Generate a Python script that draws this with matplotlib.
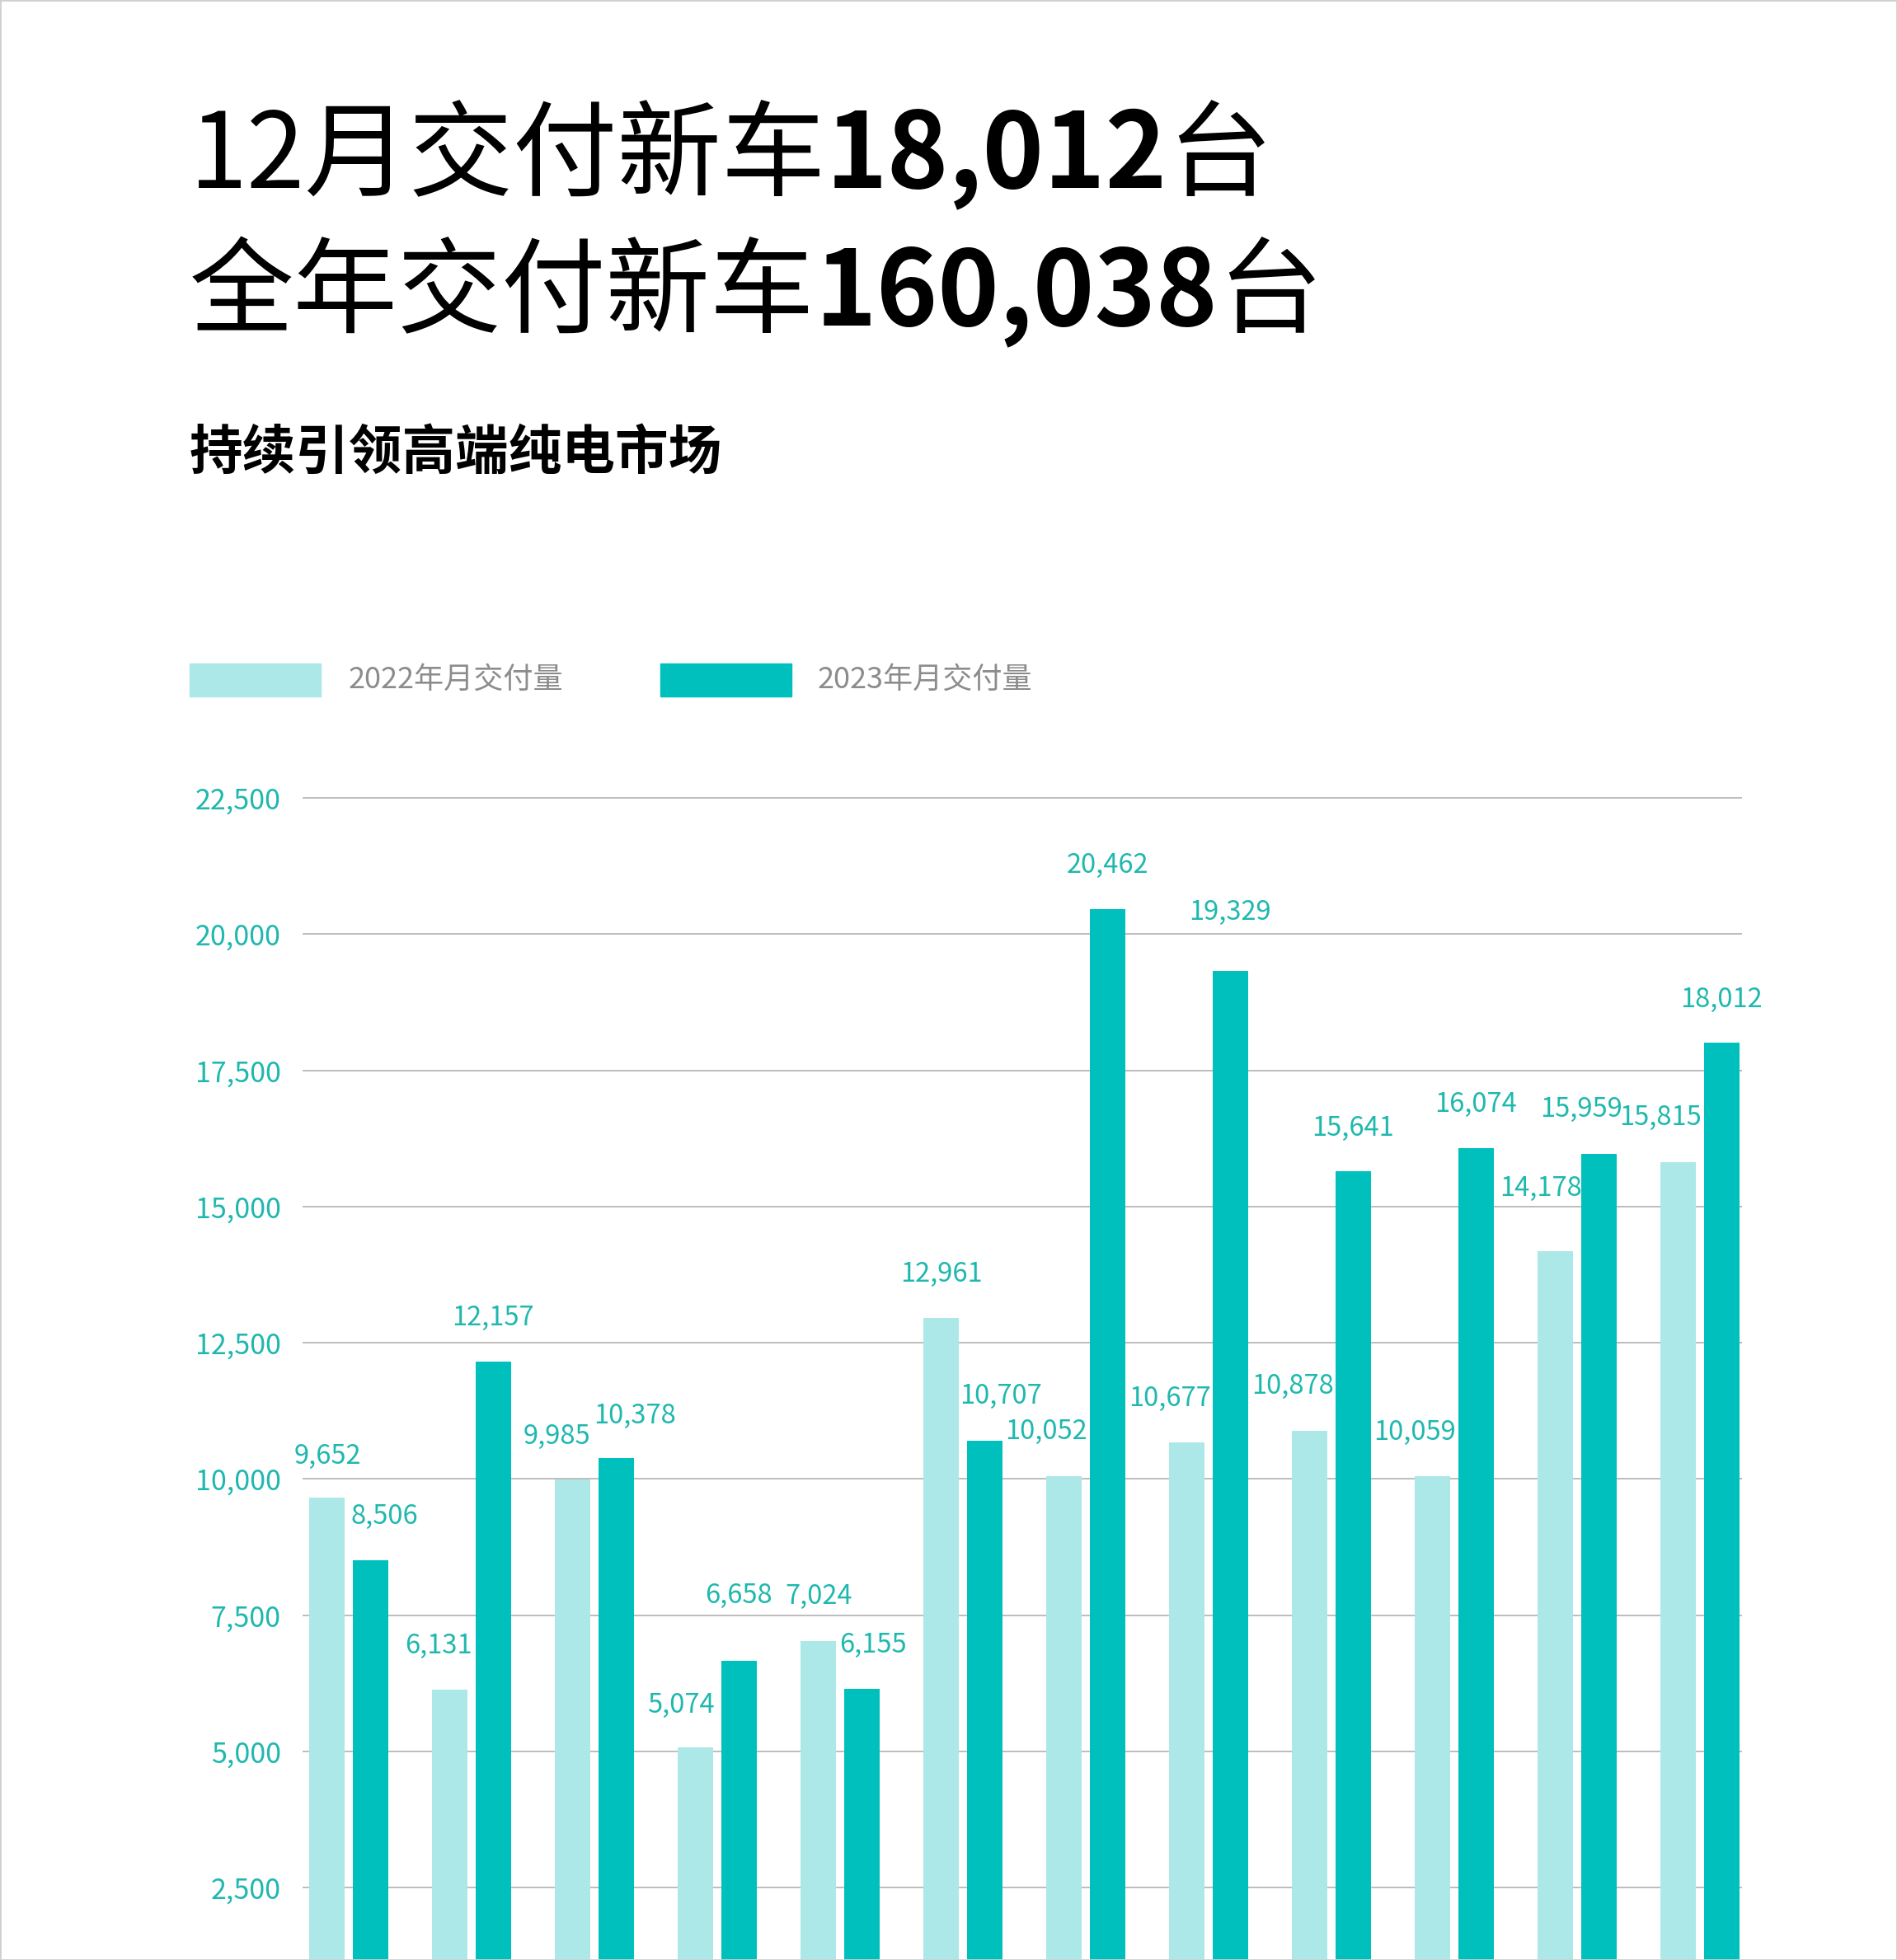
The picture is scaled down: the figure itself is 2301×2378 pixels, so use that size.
import matplotlib
matplotlib.use('Agg')
import matplotlib.pyplot as plt
from matplotlib.patches import Rectangle
import numpy as np

plt.rcParams['font.family'] = ['Noto Sans CJK SC', 'DejaVu Sans']

# 数据
months = list(range(1, 13))
sales_2022 = [9652, 6131, 9985, 5074, 7024, 12961, 10052, 10677, 10878, 10059, 14178, 15815]
sales_2023 = [8506, 12157, 10378, 6658, 6155, 10707, 20462, 19329, 15641, 16074, 15959, 18012]
y_ticks = [2500, 5000, 7500, 10000, 12500, 15000, 17500, 20000, 22500]
legend_labels = ['2022年月交付量', '2023年月交付量']
title_lines = [
    ('12月交付新车', '18,012', '台'),
    ('全年交付新车', '160,038', '台'),
]
subtitle = '持续引领高端纯电市场'

# 数值标签的偏移 (points), 避免互相重叠
off_2022 = [(0, 36), (-10, 38), (-14, 38), (-13, 37), (0, 39), (0, 38),
            (-16, 39), (-15, 38), (-15, 39), (-16, 38), (-13, 55), (-16, 39)]
off_2023 = [(12, 38), (0, 38), (16, 37), (0, 57), (10, 38), (14, 39),
            (0, 38), (0, 51), (0, 38), (0, 38), (-15, 39), (0, 37)]

LIGHT = '#ace8e8'
DARK = '#00c0be'
TEAL = '#1fb8ae'
GRID = '#bdbdbd'

W, H, DPI = 2301, 2378, 100
fig = plt.figure(figsize=(W / DPI, H / DPI), dpi=DPI)
fig.patch.set_facecolor('white')

# 图表区域
ax = fig.add_axes([367 / W, 0, 1746 / W, 1443 / H])
x = np.arange(len(months))
bw, sh = 0.289, 0.176
ax.bar(x - sh, sales_2022, width=bw, color=LIGHT, zorder=2)
ax.bar(x + sh, sales_2023, width=bw, color=DARK, zorder=2)
ax.set_xlim(-0.377, 11.342)
ax.set_ylim(1172, 23000)
ax.set_yticks(y_ticks)
ax.set_yticklabels([f'{v:,}' for v in y_ticks])
ax.set_xticks([])
ax.yaxis.grid(True, color=GRID, lw=1.4)
ax.set_axisbelow(True)
for s in ax.spines.values():
    s.set_visible(False)
ax.tick_params(axis='y', length=0, pad=19, labelsize=24.5, labelcolor=TEAL)
for lab in ax.get_yticklabels():
    lab.set_fontweight('light')

for i in range(len(months)):
    for vals, offs, sgn in ((sales_2022, off_2022, -1), (sales_2023, off_2023, 1)):
        v = vals[i]
        ax.annotate(f'{v:,}', xy=(i + sgn * sh, v), xytext=offs[i],
                    textcoords='offset points', ha='center', va='center',
                    fontsize=23.5, color=TEAL, fontweight='light',
                    annotation_clip=False)

# 标题
renderer = fig.canvas.get_renderer()
baselines = [228, 394]
for (pre, num, unit), yb in zip(title_lines, baselines):
    xp = 230
    for txt, wt in ((pre, 'light'), (num, 'black'), (unit, 'light')):
        t = fig.text(xp / W, 1 - yb / H, txt, fontsize=91, fontweight=wt,
                     color='black', ha='left', va='baseline')
        xp += t.get_window_extent(renderer).width

fig.text(230 / W, 1 - 550 / H, subtitle, fontsize=46.5, fontweight='bold',
         color='black', ha='left', va='center')

# 图例
for (x0, tx), lab, col in zip(((230, 423), (801, 992)), legend_labels, (LIGHT, DARK)):
    fig.patches.append(Rectangle((x0 / W, 1 - 845 / H), 159 / W, 40 / H,
                                 transform=fig.transFigure, color=col))
    fig.text(tx / W, 1 - 825 / H, lab, fontsize=26, color='#8c8c8c',
             fontweight='light', ha='left', va='center')

# 外框
fig.patches.append(Rectangle((0, 0), 1, 1, transform=fig.transFigure,
                             fill=False, edgecolor='#d0d0d0', lw=2))

fig.savefig('out.png', dpi=DPI)
